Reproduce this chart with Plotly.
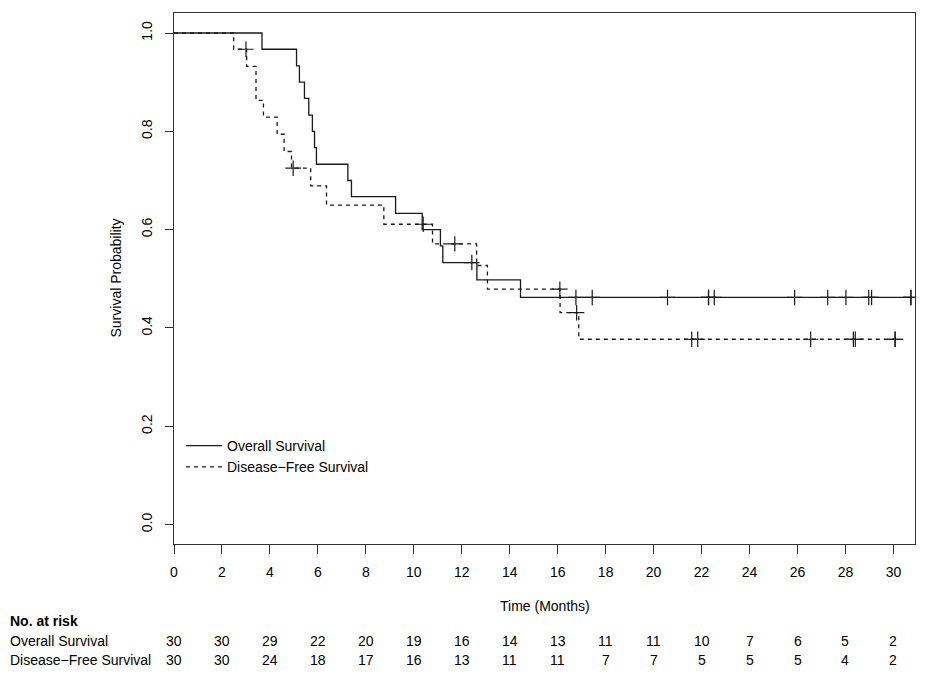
import numpy as np
import plotly.graph_objects as go

# ---- data ----
os_times = [0, 3.67, 5.11, 5.23, 5.44, 5.62, 5.77, 5.86, 5.94, 7.25, 7.40, 9.24, 10.35, 11.11, 11.21, 12.63, 14.45]
os_surv = [1.0, 0.967, 0.933, 0.900, 0.867, 0.833, 0.800, 0.767, 0.733, 0.700, 0.667, 0.633, 0.600, 0.567, 0.533, 0.498, 0.462]
os_censor = [12.42, 16.76, 17.44, 20.58, 22.29, 22.29, 22.53, 25.88, 27.26, 28.02, 28.97, 29.09, 30.73, 30.73]
os_end = 30.73

dfs_times = [0, 2.49, 3.03, 3.42, 3.73, 4.30, 4.59, 4.90, 5.70, 6.36, 8.75, 10.78, 12.62, 13.07, 16.10, 16.88]
dfs_surv = [1.0, 0.967, 0.932, 0.863, 0.829, 0.794, 0.759, 0.725, 0.689, 0.650, 0.611, 0.571, 0.527, 0.479, 0.431, 0.377]
dfs_censor = [3.00, 4.97, 10.39, 11.71, 16.09, 16.79, 21.59, 21.84, 26.55, 28.33, 28.41, 30.07, 30.07]
dfs_end = 30.07

risk_times = [0, 2, 4, 6, 8, 10, 12, 14, 16, 18, 20, 22, 24, 26, 28, 30]
os_risk = [30, 30, 29, 22, 20, 19, 16, 14, 13, 11, 11, 10, 7, 6, 5, 2]
dfs_risk = [30, 30, 24, 18, 17, 16, 13, 11, 11, 7, 7, 5, 5, 5, 4, 2]

y_ticks = [0.0, 0.2, 0.4, 0.6, 0.8, 1.0]
y_tick_labels = ["0.0", "0.2", "0.4", "0.6", "0.8", "1.0"]

series_names = ["Overall Survival", "Disease\u2212Free Survival"]

# ---- layout constants (pixels) ----
OFF = 8  # default page body margin in the browser
W, H = 917, 669
ML, MR, MT, MB = 166, 10, 5, 133
PW = W - ML - MR
PH = H - MT - MB
FONT = "Liberation Sans, Arial, Helvetica, sans-serif"
FS = 14
INK = "#1a1a1a"


def px2paper(px):
    return (px - OFF - ML) / PW


def py2paper(py):
    return (H - MB - (py - OFF)) / PH


def step_at(times, surv, t):
    idx = np.searchsorted(np.asarray(times), t, side="right") - 1
    return surv[idx]


fig = go.Figure()

curves = [
    (os_times, os_surv, os_end, os_censor, "solid", series_names[0]),
    (dfs_times, dfs_surv, dfs_end, dfs_censor, "4px,4px", series_names[1]),
]
for times, surv, end, cens, dash, name in curves:
    xs = list(times) + [end]
    ys = list(surv) + [surv[-1]]
    fig.add_trace(go.Scatter(
        x=xs, y=ys, mode="lines", line_shape="hv",
        line=dict(color=INK, width=1.3, dash=dash),
        name=name, showlegend=True, hoverinfo="skip",
    ))
    fig.add_trace(go.Scatter(
        x=cens, y=[step_at(times, surv, c) for c in cens], mode="markers",
        marker=dict(symbol="cross-thin", size=11, line=dict(color=INK, width=1.2)),
        showlegend=False, hoverinfo="skip",
    ))

txt = dict(size=FS, family=FONT, color="black")
annotations = []
annotations.append(dict(x=0.5, xref="paper", y=py2paper(606), yref="paper", yanchor="middle",
                        text="Time (Months)", showarrow=False, font=txt))
annotations.append(dict(x=px2paper(8), xref="paper", xanchor="left",
                        y=py2paper(621), yref="paper", yanchor="middle",
                        text="<b>No. at risk</b>", showarrow=False, font=txt))
for row_y, name, vals in [(641, series_names[0], os_risk), (660, series_names[1], dfs_risk)]:
    annotations.append(dict(x=px2paper(8), xref="paper", xanchor="left",
                            y=py2paper(row_y), yref="paper", yanchor="middle",
                            text=name, showarrow=False, font=txt))
    for t, v in zip(risk_times, vals):
        annotations.append(dict(x=t, xref="x", y=py2paper(row_y), yref="paper",
                                yanchor="middle", xanchor="center",
                                text=str(v), showarrow=False, font=txt))
annotations.append(dict(x=px2paper(115), xref="paper", xanchor="center",
                        y=0.5, yref="paper", yanchor="middle",
                        text="Survival Probability", textangle=-90, showarrow=False, font=txt))

fig.update_layout(
    width=W, height=H,
    margin=dict(l=ML, r=MR, t=MT, b=MB, autoexpand=False),
    paper_bgcolor="white", plot_bgcolor="white",
    font=dict(family=FONT, size=FS, color="black"),
    showlegend=True,
    legend=dict(x=px2paper(181), y=py2paper(430), xanchor="left", yanchor="top",
                bgcolor="rgba(0,0,0,0)", font=txt,
                tracegroupgap=0, itemwidth=36),
    annotations=annotations,
    xaxis=dict(range=[0, 30.9], tickvals=risk_times, ticktext=[str(t) for t in risk_times],
               showgrid=False, zeroline=False, showline=True, mirror=True,
               linecolor="#333", linewidth=1.2, ticks="outside", ticklen=9,
               tickcolor="#333", tickwidth=1, tickfont=txt, ticklabelstandoff=6),
    yaxis=dict(range=[-0.0395, 1.0407], tickvals=y_ticks, ticktext=y_tick_labels,
               tickangle=-90, showgrid=False, zeroline=False, showline=True, mirror=True,
               linecolor="#333", linewidth=1.2, ticks="outside", ticklen=8,
               tickcolor="#333", tickwidth=1, tickfont=txt, ticklabelstandoff=7),
)

fig.write_html("out.html")
